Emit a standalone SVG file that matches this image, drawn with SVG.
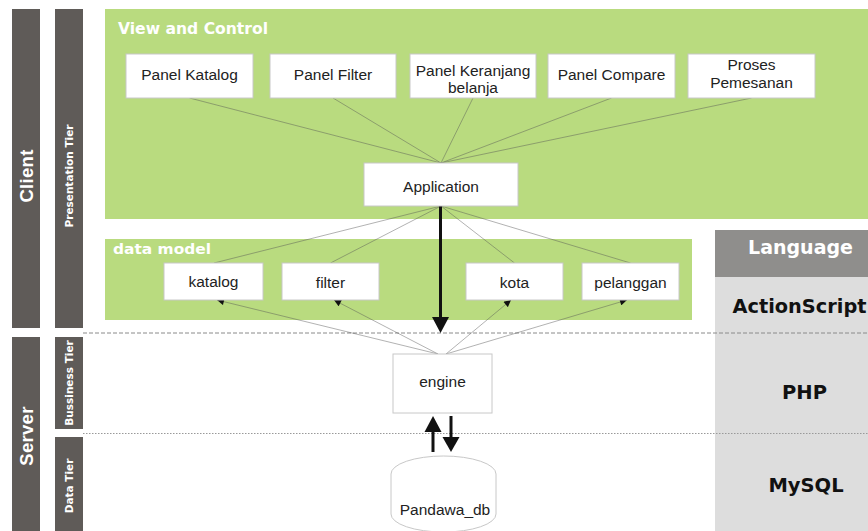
<svg xmlns="http://www.w3.org/2000/svg" width="868" height="531" viewBox="0 0 868 531">
<style>
.bar{fill:#5f5b58}
.vt{font-weight:bold;fill:#fff;text-anchor:middle}
.big{font-family:"Liberation Sans",Arial,sans-serif;font-size:18.5px;letter-spacing:0.3px}
.small{font-family:"DejaVu Sans",sans-serif;font-size:10.5px}
.green{fill:#b9db7f}
.box{fill:#fff;stroke:#c8c8c8;stroke-width:1}
.t{font-family:"Liberation Sans",Arial,sans-serif;font-size:15.5px;fill:#222;text-anchor:middle}
.title{font-family:"DejaVu Sans",sans-serif;font-weight:bold;fill:#fff}
.lang{font-family:"DejaVu Sans",sans-serif;font-weight:bold;text-anchor:middle}
.thin{stroke:#555;stroke-opacity:0.45;stroke-width:1;fill:none}
.thick{stroke:#111;stroke-width:3;fill:none}
</style>
<defs>
<marker id="sm" viewBox="0 0 10 10" refX="10" refY="5" markerWidth="8" markerHeight="7" markerUnits="userSpaceOnUse" orient="auto">
<path d="M0,0 L10,5 L0,10 Z" fill="#111"/>
</marker>
</defs>
<rect width="868" height="531" fill="#fff"/>

<g id="lane-client"><rect class="bar" x="12" y="9" width="28" height="319"/><text class="vt big" transform="translate(32.5,176) rotate(-90)">Client</text></g>
<g id="lane-presentation"><rect class="bar" x="55" y="9" width="28" height="319"/><text class="vt small" transform="translate(73,176) rotate(-90)">Presentation Tier</text></g>
<g id="lane-server"><rect class="bar" x="12" y="337" width="28" height="194"/><text class="vt big" transform="translate(32.5,436) rotate(-90)">Server</text></g>
<g id="lane-business"><rect class="bar" x="55" y="337" width="28" height="92"/><text class="vt small" transform="translate(73,383) rotate(-90)">Bussiness Tier</text></g>
<g id="lane-data"><rect class="bar" x="55" y="437" width="28" height="94"/><text class="vt small" transform="translate(73,486) rotate(-90)">Data Tier</text></g>

<g id="view-and-control"><rect class="green" x="105" y="9" width="763" height="210"/><text class="title" x="118" y="34" font-size="15.5" textLength="150" lengthAdjust="spacingAndGlyphs">View and Control</text></g>
<g id="data-model"><rect class="green" x="105" y="239" width="587" height="81"/><text class="title" x="113" y="254" font-size="14.5" textLength="98" lengthAdjust="spacingAndGlyphs">data model</text></g>

<g id="language">
<rect x="715" y="230" width="153" height="47" fill="#8f8e8c"/>
<rect x="715" y="277" width="153" height="254" fill="#dddddd"/>
<text class="lang" x="800.5" y="254" font-size="19" fill="#fff">Language</text>
<text class="lang" x="799.5" y="313" font-size="19.5" fill="#111" textLength="134" lengthAdjust="spacingAndGlyphs">ActionScript</text>
<text class="lang" x="804.5" y="399" font-size="19.5" fill="#111">PHP</text>
<text class="lang" x="806" y="492" font-size="19.5" fill="#111">MySQL</text>
</g>

<g id="tier-lines">
<line x1="83" y1="333" x2="868" y2="333" stroke="#8a8a8a" stroke-width="1" stroke-dasharray="4,2"/>
<line x1="83" y1="433.5" x2="868" y2="433.5" stroke="#999" stroke-width="1" stroke-dasharray="1.5,1.5"/>
</g>

<g id="connectors">
<line class="thin" x1="189.5" y1="98" x2="441" y2="163"/>
<line class="thin" x1="333" y1="98" x2="441" y2="163"/>
<line class="thin" x1="473" y1="98" x2="441" y2="163"/>
<line class="thin" x1="611.5" y1="98" x2="441" y2="163"/>
<line class="thin" x1="751.5" y1="98" x2="441" y2="163"/>
<line class="thin" x1="441" y1="206" x2="214" y2="263"/>
<line class="thin" x1="441" y1="206" x2="330.5" y2="263"/>
<line class="thin" x1="441" y1="206" x2="514.5" y2="263"/>
<line class="thin" x1="441" y1="206" x2="630.5" y2="263"/>
<line class="thin" x1="438" y1="354" x2="217" y2="300" marker-end="url(#sm)"/>
<line class="thin" x1="438" y1="354" x2="334" y2="300" marker-end="url(#sm)"/>
<line class="thin" x1="446" y1="354" x2="511" y2="300" marker-end="url(#sm)"/>
<line class="thin" x1="446" y1="354" x2="627" y2="300" marker-end="url(#sm)"/>
<line class="thick" x1="440.5" y1="206" x2="440.5" y2="318"/>
<polygon points="432,317 449,317 440.5,333" fill="#111"/>
<line class="thick" x1="433" y1="452" x2="433" y2="431"/>
<polygon points="424.5,432 441.5,432 433,416" fill="#111"/>
<line class="thick" x1="451" y1="416" x2="451" y2="438"/>
<polygon points="442.5,437 459.5,437 451,452" fill="#111"/>
</g>

<g id="panel-katalog"><rect class="box" x="126" y="54" width="127" height="44"/><text class="t" x="189.5" y="80">Panel Katalog</text></g>
<g id="panel-filter"><rect class="box" x="270" y="54" width="126" height="44"/><text class="t" x="333" y="80">Panel Filter</text></g>
<g id="panel-keranjang"><rect class="box" x="410" y="54" width="126" height="44"/><text class="t" x="473" y="76">Panel Keranjang</text><text class="t" x="473" y="93">belanja</text></g>
<g id="panel-compare"><rect class="box" x="548" y="54" width="127" height="44"/><text class="t" x="611.5" y="80">Panel Compare</text></g>
<g id="proses-pemesanan"><rect class="box" x="688" y="54" width="127" height="44"/><text class="t" x="751.5" y="70">Proses</text><text class="t" x="751.5" y="88">Pemesanan</text></g>
<g id="application"><rect class="box" x="364" y="163" width="154" height="43"/><text class="t" x="441" y="192">Application</text></g>

<g id="katalog"><rect class="box" x="164" y="263" width="99" height="37"/><text class="t" x="213.5" y="287">katalog</text></g>
<g id="filter"><rect class="box" x="282" y="263" width="97" height="37"/><text class="t" x="330.5" y="288">filter</text></g>
<g id="kota"><rect class="box" x="466" y="263" width="97" height="37"/><text class="t" x="514.5" y="288">kota</text></g>
<g id="pelanggan"><rect class="box" x="582" y="263" width="97" height="37"/><text class="t" x="630.5" y="288">pelanggan</text></g>

<g id="engine"><rect class="box" x="393" y="354" width="99" height="59"/><text class="t" x="442.5" y="387">engine</text></g>
<g id="pandawa-db"><path class="box" d="M391,474 A52.5,18 0 0,1 496,474 V514 A52.5,18 0 0,1 391,514 Z"/><text class="t" x="445" y="515">Pandawa_db</text></g>
</svg>
